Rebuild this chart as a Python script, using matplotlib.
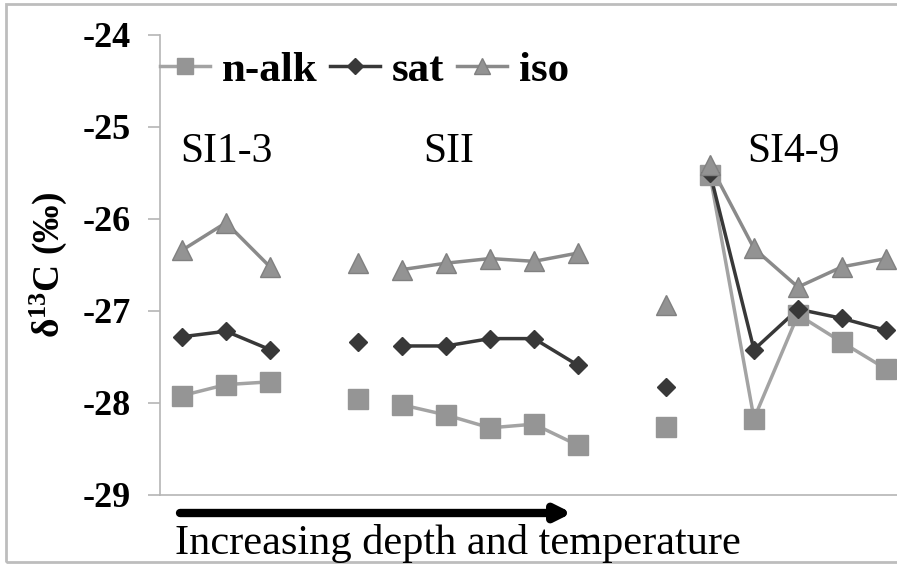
import numpy as np
import matplotlib
matplotlib.use("Agg")
import matplotlib.pyplot as plt
from matplotlib.patches import Rectangle

plt.rcParams['font.family'] = ['Liberation Serif', 'DejaVu Serif']
plt.rcParams['mathtext.fontset'] = 'custom'
plt.rcParams['mathtext.rm'] = 'Liberation Serif'
plt.rcParams['mathtext.bf'] = 'Liberation Serif:bold'

# sample slots (NaN = empty slot between groups)
n_alk = [-27.92, -27.80, -27.77, np.nan,
         -27.96, -28.02, -28.13, -28.27, -28.23, -28.46, np.nan,
         -28.26, -25.52, -28.17, -27.04, -27.34, -27.63]
sat = [-27.28, -27.22, -27.42, np.nan,
       -27.34, -27.38, -27.38, -27.30, -27.30, -27.59, np.nan,
       -27.83, -25.50, -27.42, -26.98, -27.08, -27.21]
iso = [-26.34, -26.04, -26.52, np.nan,
       -26.48, -26.55, -26.48, -26.43, -26.46, -26.37, np.nan,
       -26.94, -25.41, -26.32, -26.74, -26.52, -26.43]

# connected runs of samples
segments = [(0, 3), (5, 10), (12, 17)]

groups = ["SI1-3", "SII", "SI4-9"]
group_x = [1.0, 6.05, 13.9]

series = [
    ("n-alk", n_alk, dict(marker='s', ms=14, color='#a3a3a3', mfc='#959595', mec='#959595')),
    ("sat", sat, dict(marker='D', ms=9, color='#383838', mfc='#383838', mec='#383838')),
    ("iso", iso, dict(marker='^', ms=14, color='#8a8a8a', mfc='#939393', mec='#808080')),
]

fig = plt.figure(figsize=(8.97, 5.66), dpi=100)
ax = fig.add_axes([160 / 897, 71 / 566, 748 / 897, 460 / 566])

x = np.arange(len(n_alk))
for name, vals, st in series:
    vals = np.array(vals)
    ax.plot(x, vals, linestyle='none', marker=st['marker'], ms=st['ms'],
            mfc=st['mfc'], mec=st['mec'], mew=1, zorder=3)
    for a, b in segments:
        ax.plot(x[a:b], vals[a:b], color=st['color'], lw=2.5, zorder=2)
    # legend proxy
    ax.plot([], [], color=st['color'], lw=2.5, marker=st['marker'], ms=st['ms'] * 0.85,
            mfc=st['mfc'], mec=st['mec'], label=name)

ax.set_xlim(-0.5, 16.5)
ax.set_ylim(-29, -24)
ax.set_yticks([-29, -28, -27, -26, -25, -24])
ax.set_yticklabels(['-29', '-28', '-27', '-26', '-25', '-24'], fontsize=26, fontweight='bold')
ax.set_xticks([])
for s in ['top', 'right']:
    ax.spines[s].set_visible(False)
for s in ['left', 'bottom']:
    ax.spines[s].set_color('#b5b5b5')
    ax.spines[s].set_linewidth(1.2)
ax.tick_params(axis='y', direction='out', length=9, width=1.2, color='#b5b5b5', pad=12)

ax.set_ylabel(r'$\mathbf{\delta^{13}C}$ (‰)', fontsize=27, fontweight='bold', labelpad=10)

for g, gx in zip(groups, group_x):
    ax.text(gx, -25.27, g, fontsize=30, ha='center', va='center')

ax.legend(loc='upper left', bbox_to_anchor=(0.0, 0.965), ncol=3, frameon=False,
          prop={'size': 31, 'weight': 'bold'}, handlelength=1.15, handletextpad=0.28,
          columnspacing=0.3, borderaxespad=0, borderpad=0)

# trend arrow and caption below the axis
ax.annotate('', xy=(572, 53), xytext=(180, 53), xycoords='figure pixels',
            arrowprops=dict(arrowstyle='-|>,head_length=0.9,head_width=0.45',
                            lw=6, color='black', shrinkA=0, shrinkB=0))
fig.text(175 / 897, 12 / 566, 'Increasing depth and temperature', fontsize=30.5,
         ha='left', va='baseline')

# outer frame
fig.add_artist(Rectangle((6 / 897, 4 / 566), 1.0, 558 / 566, transform=fig.transFigure,
                         fill=False, edgecolor='#bdbdbd', lw=2))

fig.savefig('out.png', dpi=100)
